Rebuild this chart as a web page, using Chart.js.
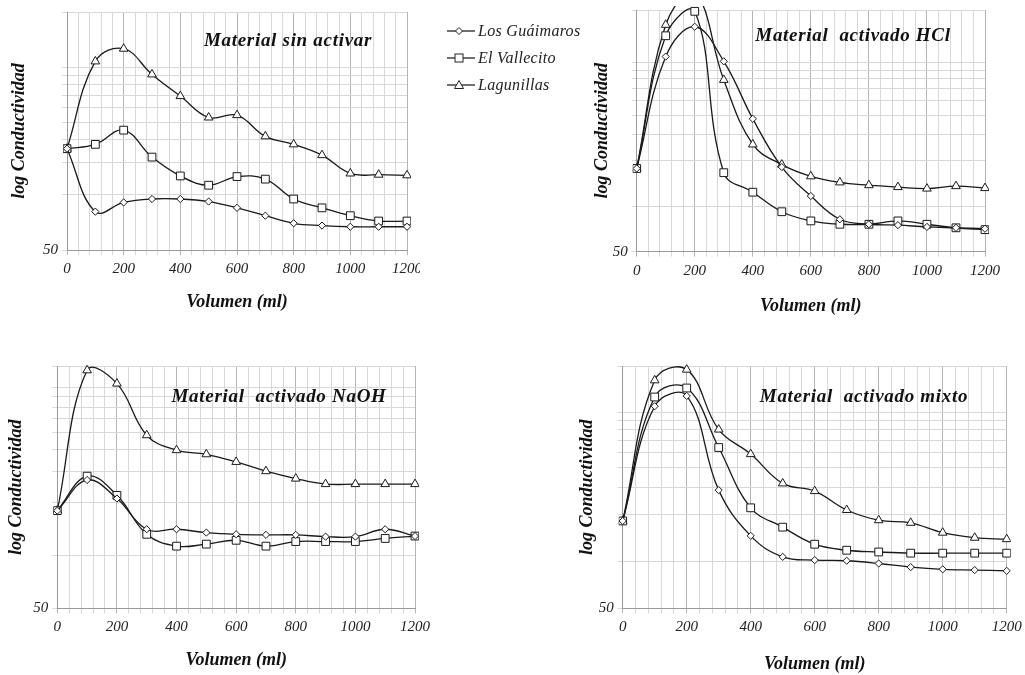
<!DOCTYPE html>
<html>
<head>
<meta charset="utf-8">
<script src="https://cdn.jsdelivr.net/npm/chart.js@4.4.0/dist/chart.umd.min.js"></script>
<style>
  body { margin: 0; background: #fff; width: 1025px; height: 675px; position: relative; overflow: hidden; }
  .panel { position: absolute; }
  #legend { position: absolute; left: 445px; top: 17px; font: italic 16px "Liberation Serif", serif; letter-spacing: 0.3px; color: #222; }
  #legend .row { height: 27px; display: flex; align-items: center; }
  #legend svg { margin-right: 3px; }
</style>
</head>
<body>
<div class="panel" style="left:0;top:0;width:420px;height:320px"><canvas id="c1"></canvas></div>
<div class="panel" style="left:580px;top:0;width:445px;height:320px"><canvas id="c2"></canvas></div>
<div class="panel" style="left:0;top:340px;width:440px;height:335px"><canvas id="c3"></canvas></div>
<div class="panel" style="left:570px;top:340px;width:455px;height:335px"><canvas id="c4"></canvas></div>
<div id="legend"></div>
<script>
const volumen = [0, 100, 200, 300, 400, 500, 600, 700, 800, 900, 1000, 1100, 1200];
const seriesNames = ["Los Guáimaros", "El Vallecito", "Lagunillas"];

// Material sin activar
const sinActivar_guaimaros = [179, 81, 91, 95, 95, 92, 85, 77, 70, 68, 67, 67, 67];
const sinActivar_vallecito = [179, 189, 226, 161, 127, 113, 126, 122, 95, 85, 77, 72, 72];
const sinActivar_lagunillas = [179, 537, 630, 456, 347, 265, 273, 209, 189, 165, 131, 129, 128];

// Material activado HCl
const hcl_guaimaros = [178, 982, 1549, 914, 380, 182, 117, 82, 76, 75, 73, 72, 71];
const hcl_vallecito = [178, 1350, 1960, 167, 124, 92, 80, 76, 76, 80, 76, 72, 70];
const hcl_lagunillas = [178, 1595, 2600, 688, 257, 189, 158, 144, 138, 134, 131, 136, 132];

// Material activado NaOH
const naoh_guaimaros = [180, 269, 211, 141, 141, 135, 132, 131, 131, 128, 128, 141, 129];
const naoh_vallecito = [180, 283, 220, 132, 113, 116, 122, 113, 120, 120, 120, 125, 129];
const naoh_lagunillas = [180, 1134, 953, 484, 398, 377, 341, 302, 274, 255, 255, 255, 255];

// Material activado mixto
const mixto_guaimaros = [182, 993, 1156, 287, 146, 107, 102, 101, 97, 92, 89, 88, 87];
const mixto_vallecito = [182, 1138, 1300, 539, 221, 166, 129, 118, 115, 113, 113, 113, 113];
const mixto_lagunillas = [182, 1456, 1706, 703, 489, 317, 283, 214, 184, 177, 153, 142, 139];

// y grid values (log axis)
const yGrid1 = [100, 150, 200, 250, 300, 350, 400, 450, 500];
const yGrid2 = [100, 200, 300, 400, 500, 600, 700, 800, 900];

const markerStyles = ["rectRot", "rect", "triangle"];
const markerRadius = [3.6, 5.5, 5];
const serif = "'Liberation Serif', 'DejaVu Serif', serif";

Chart.defaults.font.family = serif;
Chart.defaults.color = "#222";

const panelTitle = {
  id: "panelTitle",
  afterDatasetsDraw(chart, args, opts) {
    const ctx = chart.ctx;
    ctx.save();
    ctx.font = "italic bold 19px " + serif;
    ctx.letterSpacing = "0.7px";
    ctx.fillStyle = "#111";
    ctx.textAlign = "center";
    ctx.textBaseline = "middle";
    ctx.fillText(opts.text, opts.x, opts.y);
    ctx.restore();
  },
};

function makePanel(id, p) {
  const datasets = seriesNames.map((name, i) => ({
    label: name,
    data: volumen.map((x, j) => ({ x: x, y: p.series[i][j] })),
    borderColor: "#1a1a1a",
    borderWidth: 1.3,
    pointStyle: markerStyles[i],
    pointRadius: markerRadius[i],
    pointBackgroundColor: "#fff",
    pointBorderColor: "#1a1a1a",
    pointBorderWidth: 1,
    tension: 0.4,
    clip: 4,
  }));

  return new Chart(document.getElementById(id), {
    type: "line",
    data: { datasets: datasets },
    plugins: [panelTitle],
    options: {
      responsive: true,
      maintainAspectRatio: false,
      animation: false,
      layout: { padding: { left: 0, top: p.top, right: p.right, bottom: 0 } },
      elements: { line: { capBezierPoints: false } },
      plugins: {
        legend: { display: false },
        tooltip: { enabled: false },
        panelTitle: { text: p.title, x: p.tx, y: p.ty },
      },
      scales: {
        x: {
          type: "linear",
          min: 0,
          max: 1200,
          afterFit: (s) => {
            s.height = p.xH;
            s.paddingLeft = 0;
            s.paddingRight = 0;
          },
          ticks: {
            stepSize: 40,
            autoSkip: false,
            maxRotation: 0,
            padding: 5,
            font: { style: "italic", size: 15 },
            color: "#222",
            callback: (v) => (v % 200 === 0 ? String(v) : ""),
          },
          grid: {
            color: (c) => (c.tick && c.tick.value % 200 === 0 ? "#b5b5b5" : "#d8d8d8"),
            tickLength: 5,
          },
          border: { color: "#9a9a9a" },
          title: {
            display: true,
            text: "Volumen (ml)",
            font: { style: "italic", weight: "bold", size: 18 },
            color: "#111",
            padding: { top: 0, bottom: p.xPad },
          },
        },
        y: {
          type: "logarithmic",
          min: 50,
          max: p.max,
          afterBuildTicks: (s) => {
            s.ticks = [50].concat(p.grid, [p.max]).map((v) => ({ value: v }));
          },
          afterFit: (s) => {
            s.width = p.yW;
            s.paddingTop = 0;
            s.paddingBottom = 0;
          },
          ticks: {
            padding: 4,
            font: { style: "italic", size: 15 },
            color: "#222",
            callback: (v) => (v === 50 ? "50" : ""),
          },
          grid: { color: "#d8d8d8", tickLength: 5 },
          border: { color: "#9a9a9a" },
          title: {
            display: true,
            text: "log Conductividad",
            font: { style: "italic", weight: "bold", size: 18 },
            color: "#111",
            padding: { top: p.yPad, bottom: 0 },
          },
        },
      },
    },
  });
}

makePanel("c1", {
  series: [sinActivar_guaimaros, sinActivar_vallecito, sinActivar_lagunillas],
  title: "Material sin activar", tx: 288, ty: 41,
  max: 1000, grid: yGrid1,
  top: 12, right: 13, yW: 67, xH: 70, xPad: 7, yPad: 9,
});
makePanel("c2", {
  series: [hcl_guaimaros, hcl_vallecito, hcl_lagunillas],
  title: "Material  activado HCl", tx: 273, ty: 36,
  max: 2000, grid: yGrid2,
  top: 10, right: 40, yW: 56.7, xH: 68.3, xPad: 3, yPad: 12,
});
makePanel("c3", {
  series: [naoh_guaimaros, naoh_vallecito, naoh_lagunillas],
  title: "Material  activado NaOH", tx: 279, ty: 57,
  max: 1200, grid: yGrid2,
  top: 26, right: 25, yW: 57.3, xH: 66.7, xPad: 4, yPad: 6,
});
makePanel("c4", {
  series: [mixto_guaimaros, mixto_vallecito, mixto_lagunillas],
  title: "Material  activado mixto", tx: 294, ty: 57,
  max: 1800, grid: yGrid2,
  top: 26, right: 18.3, yW: 52.7, xH: 66.7, xPad: 0, yPad: 7,
});

// legend
const markerSvg = [
  '<polygon points="14,2.5 17.5,6 14,9.5 10.5,6" fill="#fff" stroke="#222" stroke-width="1"/>',
  '<rect x="10" y="2" width="8" height="8" fill="#fff" stroke="#222" stroke-width="1"/>',
  '<polygon points="14,1.5 18.5,9.5 9.5,9.5" fill="#fff" stroke="#222" stroke-width="1"/>',
];
const legend = document.getElementById("legend");
seriesNames.forEach((name, i) => {
  const row = document.createElement("div");
  row.className = "row";
  row.innerHTML =
    '<svg width="30" height="12"><line x1="2" y1="6" x2="30" y2="6" stroke="#222" stroke-width="1.3"/>' +
    markerSvg[i] + "</svg><span>" + name + "</span>";
  legend.appendChild(row);
});
</script>
</body>
</html>
